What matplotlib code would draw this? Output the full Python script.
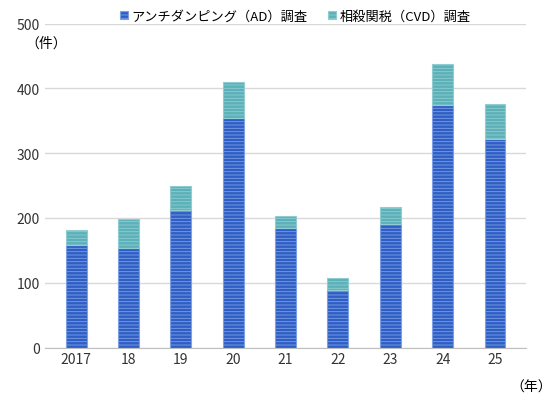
import matplotlib.pyplot as plt
import numpy as np

plt.rcParams['font.family'] = ['Noto Sans CJK JP', 'DejaVu Sans']
plt.rcParams['hatch.linewidth'] = 0.6

years = ["2017", "18", "19", "20", "21", "22", "23", "24", "25"]
ad = [158, 153, 213, 354, 185, 88, 190, 374, 322]
cvd = [23, 46, 37, 56, 18, 19, 27, 64, 54]

fig, ax = plt.subplots(figsize=(5.6, 4.1), dpi=100)
fig.subplots_adjust(left=0.08, right=0.94, top=0.94, bottom=0.15)
x = np.arange(len(years))
plt.rcParams['hatch.color'] = '#5b86d8'
ax.bar(x, ad, width=0.4, color='#2f5fc4', edgecolor='#7da0e4', hatch='-----', lw=0.8,
       label='アンチダンピング（AD）調査', zorder=3)
ax.bar(x, cvd, bottom=ad, width=0.4, color='#5cb1b8', edgecolor='#8fcdd2', hatch='-----',
       lw=0.8, label='相殺関税（CVD）調査', zorder=3)
ax.set_ylim(0, 500)
ax.set_yticks(range(0, 501, 100))
ax.set_xticks(x)
ax.set_xticklabels(years)
ax.set_xlim(-0.6, len(years) - 0.4)
ax.grid(axis='y', color='#d9d9d9', lw=1, zorder=0)
for s in ['top', 'right', 'left']:
    ax.spines[s].set_visible(False)
ax.spines['bottom'].set_color('#bfbfbf')
ax.tick_params(length=0, labelsize=10, colors='#333333')
ax.text(-0.04, 0.93, '（件）', transform=ax.transAxes, fontsize=10, ha='left')
ax.text(1.01, -0.1, '（年）', transform=ax.transAxes, fontsize=10, ha='center', va='top')
ax.legend(loc='upper center', bbox_to_anchor=(0.52, 1.08), ncol=2, frameon=False,
          fontsize=9.5, handlelength=0.6, handleheight=0.6, columnspacing=1.5, handletextpad=0.3)
fig.savefig('out.png')
